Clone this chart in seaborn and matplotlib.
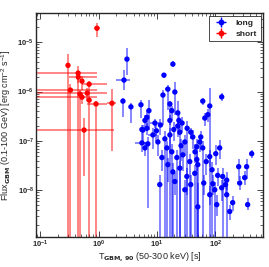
import numpy as np
import pandas as pd
import seaborn as sns
import matplotlib
matplotlib.use("Agg")
import matplotlib.pyplot as plt
from matplotlib.lines import Line2D

# short GRBs: T90 [s], flux, flux bar ends, T90 bar ends
short_t = [0.94, 0.30, 0.447, 0.45, 0.52, 0.33, 0.69, 0.64, 0.48, 0.52, 0.69, 0.906, 1.7, 0.565]
short_f = [1.92e-5, 3.4e-6, 2.37e-6, 1.96e-6, 1.63e-6, 1.07e-6, 1.41e-6, 9.3e-7, 8.9e-7, 7.7e-7,
           6.7e-7, 5.6e-7, 5.8e-7, 1.66e-7]
short_f_lo = [1.26e-5, 1e-10, 1e-10, 1.5e-6, 1.1e-6, 1e-10, 1e-10, 6.5e-7, 1e-10, 5.5e-7,
              6.0e-7, 1e-10, 6.3e-8, 1.9e-8]
short_f_hi = [2.42e-5, 5.7e-6, 3.3e-6, 2.6e-6, 2.1e-6, 1.4e-6, 1.6e-6, 1.2e-6, 1.1e-6, 9.5e-7,
              7.5e-7, 6.5e-7, 1.12e-6, 2.9e-7]
short_t_lo = [0.84, 0.28, 1e-3, 0.31, 0.48, 1e-3, 0.52, 1e-3, 0.45, 1e-3, 0.65, 0.64, 1.4, 1e-3]
short_t_hi = [1.06, 0.32, 0.94, 0.94, 0.56, 0.94, 1.4, 1.4, 0.51, 0.94, 0.73, 1.4, 2.0, 1.84]

# long GRBs: T90 [s], flux, flux bar ends, T90 half-width
long_t = [2.73, 3.07, 2.62, 3.59, 18.8, 13.2, 15.4, 20.3, 12.7, 5.33,
          7.3, 6.75, 129, 61.1, 80.5, 66.2, 74.5, 16.7, 18.0, 22.8,
          9.25, 5.54, 6.75, 22.8, 38.1, 6.24, 16.7, 23.8, 5.77, 8.55,
          10.4, 13.7, 16.7, 7.0, 6.24, 24.7, 30.1, 41.2, 48.3, 14.8,
          18.0, 12.2, 22.0, 27.8, 36.6, 15.4, 24.7, 18.8, 32.6, 44.6,
          5.54, 56.5, 54.3, 61.0, 80.5, 102, 119, 421, 252, 345,
          319, 110, 134, 157, 48.3, 50.2, 177, 199, 359, 50.2,
          63.5, 90.6, 98, 80.5, 157, 129, 106, 262, 150, 11.2,
          30.1, 20.3, 9.8, 11.5, 27, 33, 19.5, 45, 70, 88,
          38, 26]
long_f = [1.71e-6, 4.54e-6, 6.4e-7, 4.9e-7, 3.6e-6, 2.15e-6, 1.12e-6, 9.8e-7, 8.5e-7, 5.4e-7,
          4.1e-7, 3.0e-7, 7.8e-7, 6.4e-7, 5.1e-7, 2.9e-7, 3.4e-7, 5.6e-7, 4.1e-7, 3.7e-7,
          2.3e-7, 1.7e-7, 1.8e-7, 2.0e-7, 1.5e-7, 2.6e-7, 2.6e-7, 2.6e-7, 1.66e-7, 1.32e-7,
          9.5e-8, 1.1e-7, 1.32e-7, 8.7e-8, 7.2e-8, 1.5e-7, 9.5e-8, 1.2e-7, 7.6e-8, 7.2e-8,
          6.0e-8, 4.6e-8, 4.6e-8, 5.2e-8, 3.8e-8, 3.3e-8, 2.8e-8, 2.35e-8, 1.9e-8, 2.2e-8,
          9.1e-8, 1.2e-7, 9.5e-8, 7.2e-8, 4.8e-8, 5.5e-8, 7.2e-8, 5.5e-8, 3.0e-8, 3.0e-8,
          1.8e-8, 2.0e-8, 1.9e-8, 1.6e-8, 4.2e-8, 3.3e-8, 3.7e-9, 5.6e-9, 5.1e-9, 4.6e-9,
          1.4e-8, 1.35e-8, 1.02e-8, 8.1e-9, 8.1e-9, 1.12e-8, 5.1e-9, 1.4e-8, 1.3e-8, 1.3e-8,
          1.02e-8, 1.5e-8, 1.6e-7, 2.1e-7, 2.3e-7, 1.8e-7, 1.7e-7, 6.0e-8, 3.8e-8, 2.6e-8,
          1.3e-8, 8.0e-8]
long_f_lo = [1.07e-6, 2.15e-6, 3.0e-7, 2.3e-7, 3.1e-6, 1.9e-6, 4.2e-7, 3.4e-7, 2.1e-7, 2.9e-7,
             1.66e-7, 1.66e-7, 6.4e-7, 5.4e-7, 1e-10, 2.0e-7, 2.4e-7, 2.1e-7, 2.6e-7, 2.1e-7,
             1.8e-7, 1.2e-7, 1.3e-7, 1.2e-7, 1.1e-7, 1.66e-7, 1e-10, 1.3e-7, 9e-8, 7e-8,
             5e-8, 1e-10, 6e-8, 4.4e-9, 5e-8, 1e-10, 5e-8, 7e-8, 1e-10, 1e-10,
             1e-10, 2.5e-8, 1e-10, 2.5e-8, 1e-10, 1.5e-8, 1e-10, 1e-10, 8e-9, 1e-10,
             6e-8, 8e-8, 6e-8, 1e-10, 3e-8, 3.3e-8, 4.2e-8, 4.6e-8, 1.6e-8, 1.7e-8,
             1.3e-8, 1.2e-8, 1e-10, 1e-8, 2.5e-8, 1e-10, 2.5e-9, 3.7e-9, 4.0e-9, 1e-10,
             8e-9, 8e-9, 1e-10, 5e-9, 1e-10, 6e-9, 3e-9, 1e-8, 8e-9, 1e-10,
             1e-10, 8e-9, 1.0e-7, 1.3e-7, 1.5e-7, 1e-10, 1.0e-7, 3.5e-8, 2e-8, 1e-10,
             1e-10, 4e-8]
long_f_hi = [2.7e-6, 7.6e-6, 7.4e-7, 5.9e-7, 4.1e-6, 2.4e-6, 1.35e-6, 1.56e-6, 1.07e-6, 6.7e-7,
             6.7e-7, 4.2e-7, 9.3e-7, 7.4e-7, 1.18e-6, 3.6e-7, 4.4e-7, 6.4e-7, 5.1e-7, 6.4e-7,
             2.8e-7, 2.1e-7, 2.3e-7, 2.6e-7, 1.8e-7, 3.4e-7, 3.4e-7, 3.7e-7, 2.1e-7, 1.8e-7,
             1.3e-7, 1.6e-7, 1.8e-7, 1.2e-7, 9.5e-8, 2.0e-7, 1.3e-7, 1.7e-7, 1.1e-7, 1.0e-7,
             8.5e-8, 6.5e-8, 6.5e-8, 7.5e-8, 5.5e-8, 4.5e-8, 4.0e-8, 3.5e-8, 2.8e-8, 3.2e-8,
             1.2e-7, 1.6e-7, 1.3e-7, 1.0e-7, 6.5e-8, 8.3e-8, 1.05e-7, 6.5e-8, 4.2e-8, 4.2e-8,
             2.4e-8, 2.8e-8, 2.8e-8, 2.3e-8, 6e-8, 4.5e-8, 5.1e-9, 7.7e-9, 7e-9, 1.4e-8,
             2e-8, 2e-8, 1.5e-8, 1.2e-8, 1.2e-8, 1.6e-8, 8e-9, 1.9e-8, 1.8e-8, 2e-8,
             1.6e-8, 2.2e-8, 2.2e-7, 2.8e-7, 3.0e-7, 2.5e-7, 2.4e-7, 8.5e-8, 5.5e-8, 3.8e-8,
             2e-8, 1.1e-7]
long_t_err = [0.7, 0.2, 0.15, 0.15, 0.8, 0.6, 1.5, 0.8, 0.6, 0.25,
              0.3, 0.3, 6, 3, 4, 3, 3, 0.7, 0.8, 1,
              1.5, 0.25, 0.3, 1, 3, 0.3, 0.7, 1, 0.3, 1.5,
              0.5, 0.6, 0.7, 0.3, 0.3, 1, 1.5, 2, 2, 0.7,
              0.8, 0.6, 1, 1.2, 1.5, 0.7, 1, 0.8, 1.5, 2,
              1.3, 2.5, 2.5, 3, 4, 4, 5, 20, 10, 12,
              10, 5, 5, 6, 2, 2, 7, 8, 12, 2,
              3, 4, 4, 4, 6, 5, 4, 10, 6, 0.5,
              1.3, 1, 0.4, 0.5, 1.2, 1.5, 0.8, 2, 3, 4,
              1.5, 1.2]

sns.set_style("ticks")
plt.rcParams['font.family'] = ['Liberation Sans', 'DejaVu Sans']
plt.rcParams['mathtext.default'] = 'regular'

fig = plt.figure(figsize=(2.69, 2.67), dpi=100)
ax = fig.add_axes([0.134, 0.112, 0.844, 0.839])

blue = (0, 0, 1)
red = (1, 0, 0)

lt = np.array(long_t)
lf = np.array(long_f)
ax.errorbar(lt, lf, xerr=np.array(long_t_err),
            yerr=[lf - np.array(long_f_lo), np.array(long_f_hi) - lf],
            fmt='none', ecolor=blue, elinewidth=1.1, alpha=0.6, capsize=0)

st = np.array(short_t)
sf = np.array(short_f)
ax.errorbar(st, sf, xerr=[st - np.array(short_t_lo), np.array(short_t_hi) - st],
            yerr=[sf - np.array(short_f_lo), np.array(short_f_hi) - sf],
            fmt='none', ecolor=red, elinewidth=1.1, alpha=0.6, capsize=0)

df = pd.DataFrame({
    't90': long_t + short_t,
    'flux': long_f + short_f,
    'type': ['long'] * len(long_t) + ['short'] * len(short_t),
})
sns.scatterplot(data=df, x='t90', y='flux', hue='type', palette={'long': blue, 'short': red},
                s=15, linewidth=0, legend=False, ax=ax, zorder=3)

ax.set_xscale('log')
ax.set_yscale('log')
ax.set_xlim(0.085, 660)
ax.set_ylim(1.12e-9, 3.9e-5)

ax.tick_params(which='both', direction='in', top=True, right=True, labelsize=5.5, pad=1.5)
ax.tick_params(which='major', length=4, width=0.6)
ax.tick_params(which='minor', length=2.2, width=0.5)
for lab in ax.get_xticklabels() + ax.get_yticklabels():
    lab.set_fontweight('bold')
for s in ax.spines.values():
    s.set_linewidth(1.0)

ax.set_xlabel('T$_{\\mathbf{GBM,\\,90}}$ (50-300 keV) [s]', fontsize=6.5, labelpad=0)
ax.set_ylabel('Flux$_{\\mathbf{GBM}}$ (0.1-100 GeV) [erg cm$^{-2}$ s$^{-1}$]', fontsize=6.5, labelpad=3)

handles = []
for c in [blue, red]:
    dot = Line2D([], [], marker='o', color=c, ls='none', markersize=3.2)
    cross = Line2D([], [], marker='+', color=c, ls='none', markersize=7, markeredgewidth=1.0)
    handles.append((dot, cross))
leg = ax.legend(handles, ['long', 'short'], loc='upper right', prop={'weight': 'bold', 'size': 6},
                fancybox=False, edgecolor='black', framealpha=1, borderpad=0.4,
                handletextpad=0.8, labelspacing=0.4, borderaxespad=0.3)
leg.get_frame().set_linewidth(0.5)

fig.savefig('out.png', dpi=100)
